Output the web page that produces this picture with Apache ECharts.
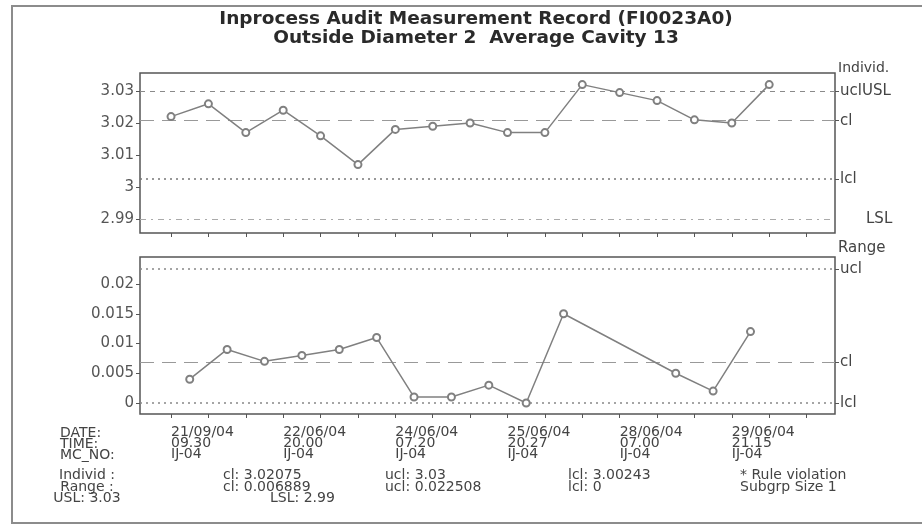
<!DOCTYPE html>
<html><head><meta charset="utf-8">
<script src="https://cdn.jsdelivr.net/npm/echarts@6/dist/echarts.min.js"></script>
<style>html,body{margin:0;padding:0;background:#fff}#c{width:922px;height:528px}</style>
</head><body><div id="c"></div>
<script>
// ---------- data ----------
const titleLines = ['Inprocess Audit Measurement Record (FI0023A0)', 'Outside Diameter 2  Average Cavity 13'];
// individual measurements, one per sample slot 0..16
const individValues = [3.022, 3.026, 3.017, 3.024, 3.016, 3.007, 3.018, 3.019, 3.020, 3.017, 3.017, 3.032, 3.0295, 3.027, 3.021, 3.020, 3.032];
// moving ranges, between slot k-1 and k (k = 1..16); null = not plotted
const rangeValues = [0.004, 0.009, 0.007, 0.008, 0.009, 0.011, 0.001, 0.001, 0.003, 0, 0.015, null, null, 0.005, 0.002, 0.012];
const sampleTicks = [0, 1, 2, 3, 4, 5, 6, 7, 8, 9, 10, 11, 12, 13, 14, 15, 16, 17];
const labelSamples = [0, 3, 6, 9, 12, 15];
const dateLabels = ['21/09/04', '22/06/04', '24/06/04', '25/06/04', '28/06/04', '29/06/04'];
const timeLabels = ['09.30', '20.00', '07.20', '20.27', '07.00', '21.15'];
const mcLabels = ['IJ-04', 'IJ-04', 'IJ-04', 'IJ-04', 'IJ-04', 'IJ-04'];
const individTicks = [2.99, 3, 3.01, 3.02, 3.03];
const rangeTicks = [0, 0.005, 0.01, 0.015, 0.02];
const individLimits = { ucl: 3.03, cl: 3.02075, lcl: 3.00243 };
const specLimits = { USL: 3.03, LSL: 2.99 };
const rangeLimits = { ucl: 0.022508, cl: 0.006889, lcl: 0 };
const footNotes = ['* Rule violation', 'Subgrp Size 1'];

// ---------- chart ----------
const FONT = 'DejaVu Sans';
const TXT = '#444';
const chart = echarts.init(document.getElementById('c'));

const individData = individValues.map((v, i) => [i, v]);
const rangeData = [];
rangeValues.forEach((v, k) => { if (v !== null) rangeData.push([k + 0.5, v]); });

const refLabel = { position: 'end', distance: 5, color: TXT, fontSize: 15, fontFamily: FONT };
const gridBase = { left: 140, right: 87, show: true, borderColor: '#555', borderWidth: 1.5, backgroundColor: 'transparent' };
const xBase = {
  type: 'value', min: -0.83, max: 17.76, axisLine: { show: false, onZero: false }, splitLine: { show: false },
  axisTick: { show: true, customValues: sampleTicks, length: 4, lineStyle: { color: '#555', width: 1 } }
};
const yBase = {
  type: 'value', splitLine: { show: false }, axisLine: { show: false, onZero: false },
  axisTick: { show: true, length: 4, lineStyle: { color: '#555' } },
  axisLabel: { color: '#555', fontSize: 15, fontFamily: FONT, margin: 6, formatter: v => String(parseFloat(Number(v).toFixed(4))) }
};
const yRight = {
  type: 'value', position: 'right', splitLine: { show: false }, axisLine: { show: false, onZero: false },
  axisLabel: { show: false }
};

const lineStyle = { color: '#808080', width: 1.5 };
const itemStyle = { color: '#808080', borderColor: '#808080', borderWidth: 1.2 };

function textEl(text, x, y, align, size) {
  return {
    type: 'text', x: x, y: y, silent: true,
    style: { text: text, fill: TXT, font: (size || 14) + 'px "' + FONT + '"', fontSize: size || 14, fontFamily: FONT,
      textAlign: align || 'left', textVerticalAlign: 'middle', lineHeight: 11.5 }
  };
}

const rowY = [475, 487, 498];
const graphics = [
  { type: 'rect', silent: true, shape: { x: 12, y: 6, width: 930, height: 517 }, style: { fill: 'none', stroke: '#8c8c8c', lineWidth: 2 } },
  textEl('Individ.', 838, 68, 'left', 14),
  textEl('Range', 838, 248, 'left', 15),
  textEl('DATE:', 60, 433), textEl('TIME:', 60, 444), textEl('MC_NO:', 60, 455),
  textEl('Individ :', 87, rowY[0], 'center'), textEl('Range :', 87, rowY[1], 'center'), textEl('USL: ' + specLimits.USL, 87, rowY[2], 'center'),
  textEl('cl: ' + individLimits.cl, 223, rowY[0]), textEl('cl: ' + rangeLimits.cl, 223, rowY[1]), textEl('LSL: ' + specLimits.LSL, 270, rowY[2]),
  textEl('ucl: ' + individLimits.ucl, 385, rowY[0]), textEl('ucl: ' + rangeLimits.ucl, 385, rowY[1]),
  textEl('lcl: ' + individLimits.lcl, 568, rowY[0]), textEl('lcl: ' + rangeLimits.lcl, 568, rowY[1]),
  textEl(footNotes[0], 740, rowY[0]), textEl(footNotes[1], 740, rowY[1])
];

const option = {
  animation: false,
  backgroundColor: '#fff',
  title: {
    text: titleLines.join('\n'), left: 476, top: 10, textAlign: 'center', padding: 0,
    textStyle: { fontFamily: FONT, fontWeight: 'bold', fontSize: 18.5, lineHeight: 19, color: '#2a2a2a' }
  },
  grid: [Object.assign({ top: 73, height: 160 }, gridBase), Object.assign({ top: 257, height: 157 }, gridBase)],
  xAxis: [
    Object.assign({ gridIndex: 0, axisLabel: { show: false } }, xBase),
    Object.assign({ gridIndex: 1, axisLabel: {
      show: true, customValues: labelSamples, align: 'left', margin: 13, lineHeight: 11, fontSize: 14, fontFamily: FONT, color: TXT,
      formatter: v => { const k = labelSamples.indexOf(Math.round(v)); return k < 0 ? '' : dateLabels[k] + '\n' + timeLabels[k] + '\n' + mcLabels[k]; }
    } }, xBase)
  ],
  yAxis: [
    Object.assign({}, yBase, { gridIndex: 0, min: 2.98563, max: 3.03563,
      axisTick: Object.assign({}, yBase.axisTick, { customValues: individTicks }),
      axisLabel: Object.assign({}, yBase.axisLabel, { customValues: individTicks }) }),
    Object.assign({}, yRight, { gridIndex: 0, min: 2.98563, max: 3.03563,
      axisTick: { show: true, length: 4, lineStyle: { color: '#555' }, customValues: [individLimits.ucl, individLimits.cl, individLimits.lcl] } }),
    Object.assign({}, yBase, { gridIndex: 1, min: -0.00185, max: 0.02454,
      axisTick: Object.assign({}, yBase.axisTick, { customValues: rangeTicks }),
      axisLabel: Object.assign({}, yBase.axisLabel, { customValues: rangeTicks }) }),
    Object.assign({}, yRight, { gridIndex: 1, min: -0.00185, max: 0.02454,
      axisTick: { show: true, length: 4, lineStyle: { color: '#555' }, customValues: [rangeLimits.ucl, rangeLimits.cl, rangeLimits.lcl] } })
  ],
  series: [
    {
      name: 'Individ', type: 'line', xAxisIndex: 0, yAxisIndex: 0, data: individData,
      symbol: 'emptyCircle', symbolSize: 7, lineStyle: lineStyle, itemStyle: itemStyle, z: 5,
      markLine: {
        silent: true, precision: 6, symbol: ['none', 'none'], label: refLabel,
        data: [
          { yAxis: individLimits.ucl, lineStyle: { color: '#8a8a8a', type: [5, 5], width: 1.2 }, label: { formatter: 'uclUSL' } },
          { yAxis: individLimits.cl, lineStyle: { color: '#999', type: [14, 8], width: 1.2 }, label: { formatter: 'cl' } },
          { yAxis: individLimits.lcl, lineStyle: { color: '#777', type: [2, 4], width: 1.5 }, label: { formatter: 'lcl' } },
          { yAxis: specLimits.LSL, lineStyle: { color: '#aaa', type: [6, 5, 2, 5], width: 1.2 }, label: { formatter: 'LSL', padding: [0, 0, 0, 26] } }
        ]
      }
    },
    {
      name: 'Range', type: 'line', xAxisIndex: 1, yAxisIndex: 2, data: rangeData,
      symbol: 'emptyCircle', symbolSize: 7, lineStyle: lineStyle, itemStyle: itemStyle, z: 5,
      markLine: {
        silent: true, precision: 6, symbol: ['none', 'none'], label: refLabel,
        data: [
          { yAxis: rangeLimits.ucl, lineStyle: { color: '#888', type: [2, 4], width: 1.5 }, label: { formatter: 'ucl' } },
          { yAxis: rangeLimits.cl, lineStyle: { color: '#999', type: [14, 8], width: 1.2 }, label: { formatter: 'cl' } },
          { yAxis: rangeLimits.lcl, lineStyle: { color: '#888', type: [2, 4], width: 1.5 }, label: { formatter: 'lcl' } }
        ]
      }
    }
  ],
  graphic: graphics
};
chart.setOption(option);
</script>
</body></html>
